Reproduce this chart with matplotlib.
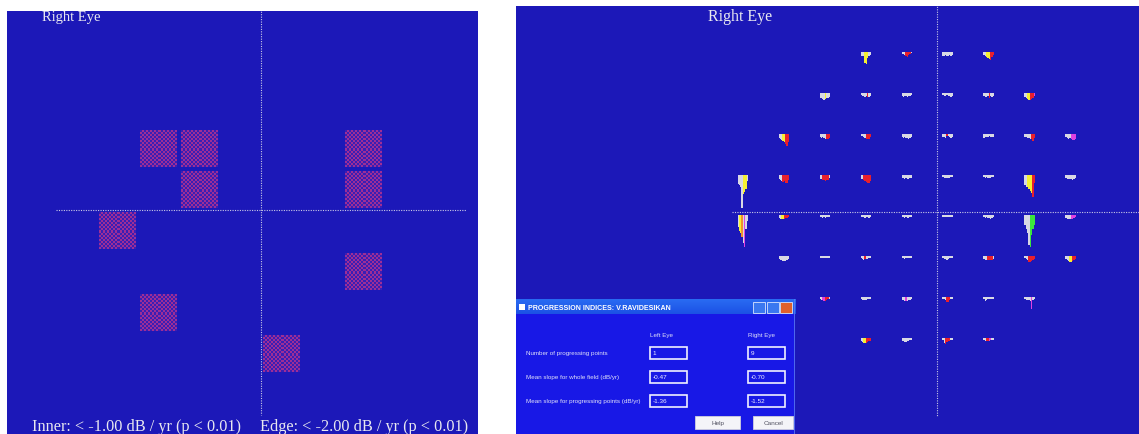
import numpy as np
import matplotlib.pyplot as plt
from matplotlib.patches import Rectangle

W, H = 1139, 435
PX = 6.83  # pixels per degree of visual field

BG = '#1c18b8'
LINE = '#c8c8e6'

# progressing points (degrees) shown as hatched squares
prog_x = [-15, -9, -9, -21, -15, 15, 15, 15, 3]
prog_y = [9, 9, 3, -3, -15, 9, 3, -9, -21]

# 24-2 test locations of the right eye (degrees)
field_x = [-9, -3, 3, 9,
           -15, -9, -3, 3, 9, 15,
           -21, -15, -9, -3, 3, 9, 15, 21,
           -27, -21, -15, -9, -3, 3, 9, 15, 21,
           -27, -21, -15, -9, -3, 3, 9, 15, 21,
           -21, -15, -9, -3, 3, 9, 15, 21,
           -15, -9, -3, 3, 9, 15,
           -9, -3, 3, 9]
field_y = [21] * 4 + [15] * 6 + [9] * 8 + [3] * 9 + [-3] * 9 + [-9] * 8 + [-15] * 6 + [-21] * 4

# sensitivity loss per visit (dB) at each location
bar_depth = [
    [4, 4, 4, 11, 12, 6, 4, 3], [2, 2, 3, 4, 5, 3, 2, 1], [4, 4, 3, 4, 4, 3, 4, 3], [3, 4, 5, 6, 7, 8, 5, 3],
    [5, 5, 6, 7, 6, 5, 5, 4], [2, 3, 3, 4, 3, 4, 4, 3], [3, 4, 3, 3, 4, 3, 3, 2], [2, 3, 3, 2, 3, 3, 4, 3],
    [3, 4, 4, 3, 5, 3, 4, 3], [4, 5, 6, 7, 7, 6, 5, 3],
    [4, 5, 6, 7, 8, 10, 12, 8], [3, 4, 3, 4, 5, 5, 5, 4], [2, 2, 3, 4, 5, 5, 5, 3], [3, 4, 3, 4, 4, 5, 4, 3],
    [3, 3, 4, 2, 2, 3, 4, 3], [4, 3, 3, 3, 2, 3, 3, 3], [3, 3, 4, 4, 5, 5, 7, 4], [3, 4, 5, 4, 5, 6, 6, 5],
    [9, 10, 12, 33, 19, 17, 14, 6], [4, 5, 6, 7, 6, 8, 8, 5], [4, 4, 5, 5, 6, 5, 5, 3], [4, 4, 5, 6, 7, 8, 8, 6],
    [3, 3, 4, 3, 4, 4, 3, 3], [2, 3, 3, 3, 3, 3, 2, 2], [2, 3, 2, 3, 3, 3, 2, 2], [10, 12, 12, 14, 16, 18, 22, 8],
    [3, 4, 4, 4, 4, 5, 4, 3],
    [12, 16, 18, 22, 28, 32, 14, 6], [3, 4, 4, 4, 4, 3, 3, 2], [2, 2, 3, 2, 3, 2, 2, 2], [2, 2, 2, 3, 2, 2, 3, 2],
    [2, 2, 3, 2, 3, 3, 2, 2], [2, 2, 2, 2, 2, 2, 2, 2], [2, 3, 2, 3, 3, 4, 3, 2], [10, 14, 18, 30, 32, 20, 14, 10],
    [3, 4, 4, 4, 4, 4, 3, 2],
    [3, 4, 4, 5, 5, 5, 4, 3], [2, 2, 2, 2, 2, 2, 2, 2], [2, 3, 4, 3, 3, 3, 2, 2], [2, 2, 3, 2, 2, 2, 2, 2],
    [2, 3, 3, 4, 3, 2, 2, 2], [3, 4, 4, 4, 4, 4, 4, 3], [2, 3, 4, 6, 6, 5, 4, 3], [3, 4, 5, 6, 6, 5, 4, 3],
    [2, 3, 3, 4, 4, 3, 2, 2], [2, 3, 3, 3, 3, 2, 2, 2], [3, 3, 4, 4, 4, 3, 3, 2], [2, 2, 3, 5, 5, 3, 2, 2],
    [2, 4, 3, 2, 2, 2, 2, 2], [2, 3, 3, 3, 4, 12, 3, 2],
    [3, 4, 5, 5, 5, 4, 3, 3], [3, 3, 4, 4, 3, 3, 2, 2], [2, 5, 6, 4, 3, 3, 2, 2], [2, 3, 3, 3, 3, 2, 2, 2],
]

# significance colour per visit: w none, y p<0.05, o p<0.02, r p<0.01, m p<0.001, g improving
bar_code = [
    'wwwyyyww', 'wwwrrrrw', 'wwwwwwww', 'wwyyyrrr',
    'wwwwywww', 'wwwwwrww', 'wwwwwwww', 'wwwwwwww', 'wwwwrwww', 'wwyyrrrm',
    'wwwyyrrr', 'wwwwwrrr', 'wwwwrrrr', 'wwwwwwww', 'wwwrwwww', 'wwwwwwww', 'wwwwwrrr', 'wwwwmmmm',
    'wwwwyyyw', 'wwwrrrrr', 'wwrrrrrw', 'wwrrrrrr', 'wwwwwwww', 'wwwwwwww', 'wwwwwwww', 'wwyyyyrr',
    'wwwwwwww',
    'wyyowmww', 'wwyyrrrr', 'wwwwwwww', 'wwwwwwww', 'wwwwwwww', 'wwwwwwww', 'wwwwwwww', 'wwwwgggg',
    'wwwwmmmm',
    'wwwwwwww', 'wwwwwwww', 'wwwrwwww', 'wwwwwwww', 'wwwwwwww', 'wwwrrrrw', 'wwwrrrrr', 'wwwyyrrr',
    'wwmmrrrw', 'wwwwwwww', 'wwwmwwww', 'wwwrrrww', 'wwwwwwww', 'wwwwwmww',
    'wwyyrrrr', 'wwwwwwww', 'wwrrrrww', 'wwrrmmww',
]
code_colour = {'w': '#d8d8e4', 'y': '#f5f032', 'o': '#f09030', 'r': '#e8202c', 'm': '#e040e0', 'g': '#3ce63c'}

index_labels = ['Number of progressing points',
                'Mean slope for whole field (dB/yr)',
                'Mean slope for progressing points (dB/yr)']
left_eye_vals = ['1', '-0.47', '-1.36']
right_eye_vals = ['9', '-0.70', '-1.52']


def px_axes(x0, y0, x1, y1):
    return fig.add_axes([x0 / W, 1 - y1 / H, (x1 - x0) / W, (y1 - y0) / H])


def panel(x0, y0, x1, y1, cx, cy):
    ax = px_axes(x0, y0, x1, y1)
    ax.set_xlim((x0 - cx) / PX, (x1 - cx) / PX)
    ax.set_ylim(-(y1 - cy) / PX, (cy - y0) / PX)
    ax.set_facecolor(BG)
    ax.set_xticks([])
    ax.set_yticks([])
    for s in ax.spines.values():
        s.set_visible(False)
    return ax


fig = plt.figure(figsize=(W / 100, H / 100), dpi=100)
fig.patch.set_facecolor('white')

# ---- left: progressing points map ----
axl = panel(7, 12, 478, 435, 261, 211)
axl.plot([0, 0], [40, -30], color=LINE, lw=0.8, ls=(0, (1, 1.2)))
axl.plot([-30, 30], [0, 0], color=LINE, lw=0.8, ls=(0, (1, 1.2)))

n = 18
chk = (np.add.outer(np.arange(n), np.arange(n)) % 2).astype(bool)
img = np.zeros((n, n, 3))
img[chk] = np.array([158, 46, 150]) / 255
img[~chk] = np.array([58, 30, 180]) / 255
half = 18.2 / PX
for x, y in zip(prog_x, prog_y):
    axl.imshow(img, extent=(x - half, x + half, y - half, y + half),
               interpolation='nearest', zorder=2)
axl.set_xlim((7 - 261) / PX, (478 - 261) / PX)
axl.set_ylim(-(435 - 211) / PX, (211 - 12) / PX)
axl.set_aspect('auto')

serif = ['Liberation Serif', 'DejaVu Serif']
axl.text(-32.1, 27.85, 'Right Eye', color='#e8e8f0', fontsize=10.5, family=serif,
         va='baseline', ha='left', clip_on=True)
axl.text(-33.5, -32.2, 'Inner: < -1.00 dB / yr (p < 0.01)', color='#e8e8f0',
         fontsize=11.7, family=serif, va='baseline', ha='left')
axl.text(-0.15, -32.2, 'Edge: < -2.00 dB / yr (p < 0.01)', color='#e8e8f0',
         fontsize=11.7, family=serif, va='baseline', ha='left')

# ---- right: per-location trend glyphs ----
axr = panel(516, 7, 1139, 435, 937, 213)
axr.plot([0, 0], [40, -30], color=LINE, lw=0.8, ls=(0, (1, 1.2)))
axr.plot([-30, 40], [0, 0], color=LINE, lw=0.8, ls=(0, (1, 1.2)))
axr.text(-33.5, 28.1, 'Right Eye', color='#e8e8f0', fontsize=11.5, family=serif,
         va='baseline', ha='left')

bw = 1.3 / PX
for x, y, d, code in zip(field_x, field_y, bar_depth, bar_code):
    left = x - 15 / PX
    top = y + 17 / PX
    xs = left + (np.arange(len(d)) + 0.5) * bw
    axr.bar(xs, [-v / PX for v in d], bottom=top, width=bw,
            color=[code_colour[c] for c in code], linewidth=0, zorder=3)

# ---- dialog window ----
axd = px_axes(516, 300, 795, 435)
axd.set_xlim(0, 279)
axd.set_ylim(135, 0)
axd.axis('off')
axd.add_patch(Rectangle((0, 0), 279, 135, color='#1818e6', zorder=0))
grad = np.linspace(0, 1, 16)[:, None, None] * np.array([[[-0.05, -0.1, -0.05]]]) + np.array([[[0.16, 0.42, 0.95]]])
grad = np.repeat(np.clip(grad, 0, 1), 2, axis=1)
axd.imshow(grad, extent=(0, 279, 15, 0), aspect='auto', zorder=1)
axd.add_patch(Rectangle((2.5, 5), 6, 6, facecolor='white', edgecolor='none', zorder=2))
axd.text(12, 8.5, 'PROGRESSION INDICES: V.RAVIDESIKAN', color='white', fontsize=5.1,
         weight='bold', family='Liberation Sans', va='center', zorder=3)
for bx, fc in zip([237, 250.5, 264], ['#3a78f0', '#3a78f0', '#e0602c']):
    axd.add_patch(Rectangle((bx, 3), 12, 11, facecolor=fc, edgecolor='#d8e4ff', lw=0.6, zorder=3))
axd.plot([278.5, 278.5], [0, 135], color='#5a78f0', lw=1.2, zorder=3)

sans = 'Liberation Sans'
axd.text(134, 36, 'Left Eye', color='#e0e0f8', fontsize=4.5, family=sans, va='center')
axd.text(232, 36, 'Right Eye', color='#e0e0f8', fontsize=4.5, family=sans, va='center')
for i, (lab, lv, rv) in enumerate(zip(index_labels, left_eye_vals, right_eye_vals)):
    yc = 54 + 24 * i
    axd.text(10, yc, lab, color='#e0e0f8', fontsize=4.5, family=sans, va='center')
    for bx, val in ((134, lv), (232, rv)):
        axd.add_patch(Rectangle((bx, yc - 6), 37, 12, facecolor='#1818e6',
                                edgecolor='#f0f0ff', lw=1.2, zorder=3))
        axd.text(bx + 2.5, yc, val, color='#f0f0ff', fontsize=4.6, family=sans,
                 va='center', zorder=4)
for bx, bw_, lab in ((179, 45, 'Help'), (237, 40, 'Cancel')):
    axd.add_patch(Rectangle((bx, 117), bw_, 13, facecolor='#f4f4f8', edgecolor='#d0d0dc',
                            lw=0.6, zorder=3))
    axd.text(bx + bw_ / 2, 123.5, lab, color='#505060', fontsize=4.6, family=sans,
             ha='center', va='center', zorder=4)

fig.savefig('out.png', dpi=100, facecolor='white')
